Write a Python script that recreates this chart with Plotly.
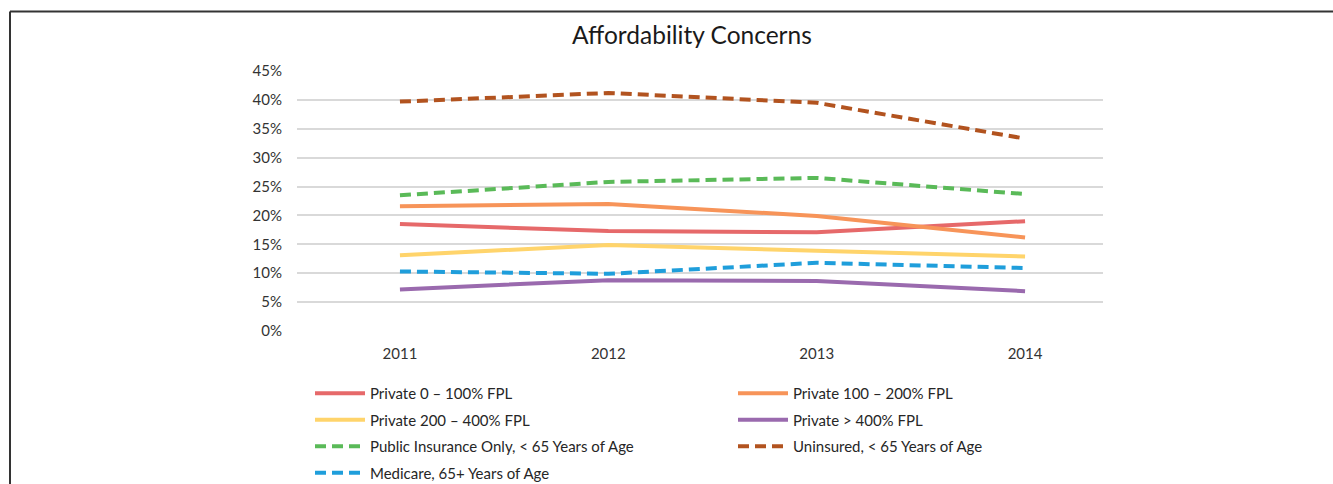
import plotly.graph_objects as go

years = [2011, 2012, 2013, 2014]
series_names = [
    "Private 0 – 100% FPL",
    "Private 100 – 200% FPL",
    "Private 200 – 400% FPL",
    "Private > 400% FPL",
    "Public Insurance Only, < 65 Years of Age",
    "Uninsured, < 65 Years of Age",
    "Medicare, 65+ Years of Age",
]
private_0_100 = [0.185, 0.173, 0.171, 0.190]
private_100_200 = [0.216, 0.220, 0.199, 0.162]
private_200_400 = [0.131, 0.149, 0.139, 0.129]
private_400_plus = [0.072, 0.088, 0.0865, 0.069]
public_only = [0.235, 0.258, 0.265, 0.237]
uninsured = [0.397, 0.412, 0.395, 0.333]
medicare = [0.103, 0.099, 0.118, 0.109]
y_ticks = [0, 0.05, 0.10, 0.15, 0.20, 0.25, 0.30, 0.35, 0.40, 0.45]

values = [private_0_100, private_100_200, private_200_400, private_400_plus,
          public_only, uninsured, medicare]
colors = ["#E6696A", "#F79459", "#FFD46B", "#9A6AAE", "#5ABA58", "#B2531F", "#1F9EDB"]
dashed = [False, False, False, False, True, True, True]
legend_col = ["legend", "legend2", "legend", "legend2", "legend", "legend2", "legend"]

FONT = "Lato, 'Open Sans', sans-serif"

fig = go.Figure()
for i, (name, vals, col, dsh, lg) in enumerate(zip(series_names, values, colors, dashed, legend_col)):
    fig.add_trace(go.Scatter(
        x=years, y=vals, name=name, mode="lines", legend=lg, legendgroup=f"g{i}",
        line=dict(color=col, width=4, dash="11px,6px" if dsh else "solid"),
    ))

W, H = 1333, 484
L, R, T, B = 297, 1103, 71, 331

def px_x(px):
    return (px - L) / (R - L)

def px_y(py):
    return (B - py) / (B - T)

legend_common = dict(
    orientation="v", yanchor="top", xanchor="left", itemwidth=50,
    font=dict(family=FONT, size=15, color="#262626"),
    tracegroupgap=4, bgcolor="rgba(0,0,0,0)",
)

fig.update_layout(
    width=W, height=H,
    margin=dict(l=L, r=W - R, t=T, b=H - B, autoexpand=False),
    paper_bgcolor="white", plot_bgcolor="white",
    font=dict(family=FONT, size=15, color="#333333"),
    showlegend=True,
    legend=dict(x=px_x(310), y=px_y(377), **legend_common),
    legend2=dict(x=px_x(733), y=px_y(377), **legend_common),
    xaxis=dict(
        range=[2010.506, 2014.374], tickvals=years, ticktext=[str(y) for y in years],
        showgrid=False, zeroline=False, showline=False, ticks="",
        ticklabelstandoff=12, fixedrange=True,
    ),
    yaxis=dict(
        range=[0, 0.45], tickvals=y_ticks, tickformat=".0%",
        showgrid=True, gridcolor="#D9D9D9", gridwidth=1.5,
        zeroline=False, showline=False, ticks="", ticklabelstandoff=14,
        fixedrange=True,
    ),
    annotations=[dict(
        text="Affordability Concerns", x=px_x(692), y=px_y(34),
        xref="paper", yref="paper", showarrow=False,
        font=dict(family=FONT, size=24.5, color="#1a1a1a"),
        xanchor="center", yanchor="middle",
    )],
    shapes=[
        dict(type="line", xref="paper", yref="paper",
             x0=px_x(10), x1=px_x(1333), y0=px_y(11.5), y1=px_y(11.5),
             line=dict(color="#333333", width=2)),
        dict(type="line", xref="paper", yref="paper",
             x0=px_x(10), x1=px_x(10), y0=px_y(11.5), y1=px_y(484),
             line=dict(color="#333333", width=2)),
    ],
)

fig.write_html("out.html")
